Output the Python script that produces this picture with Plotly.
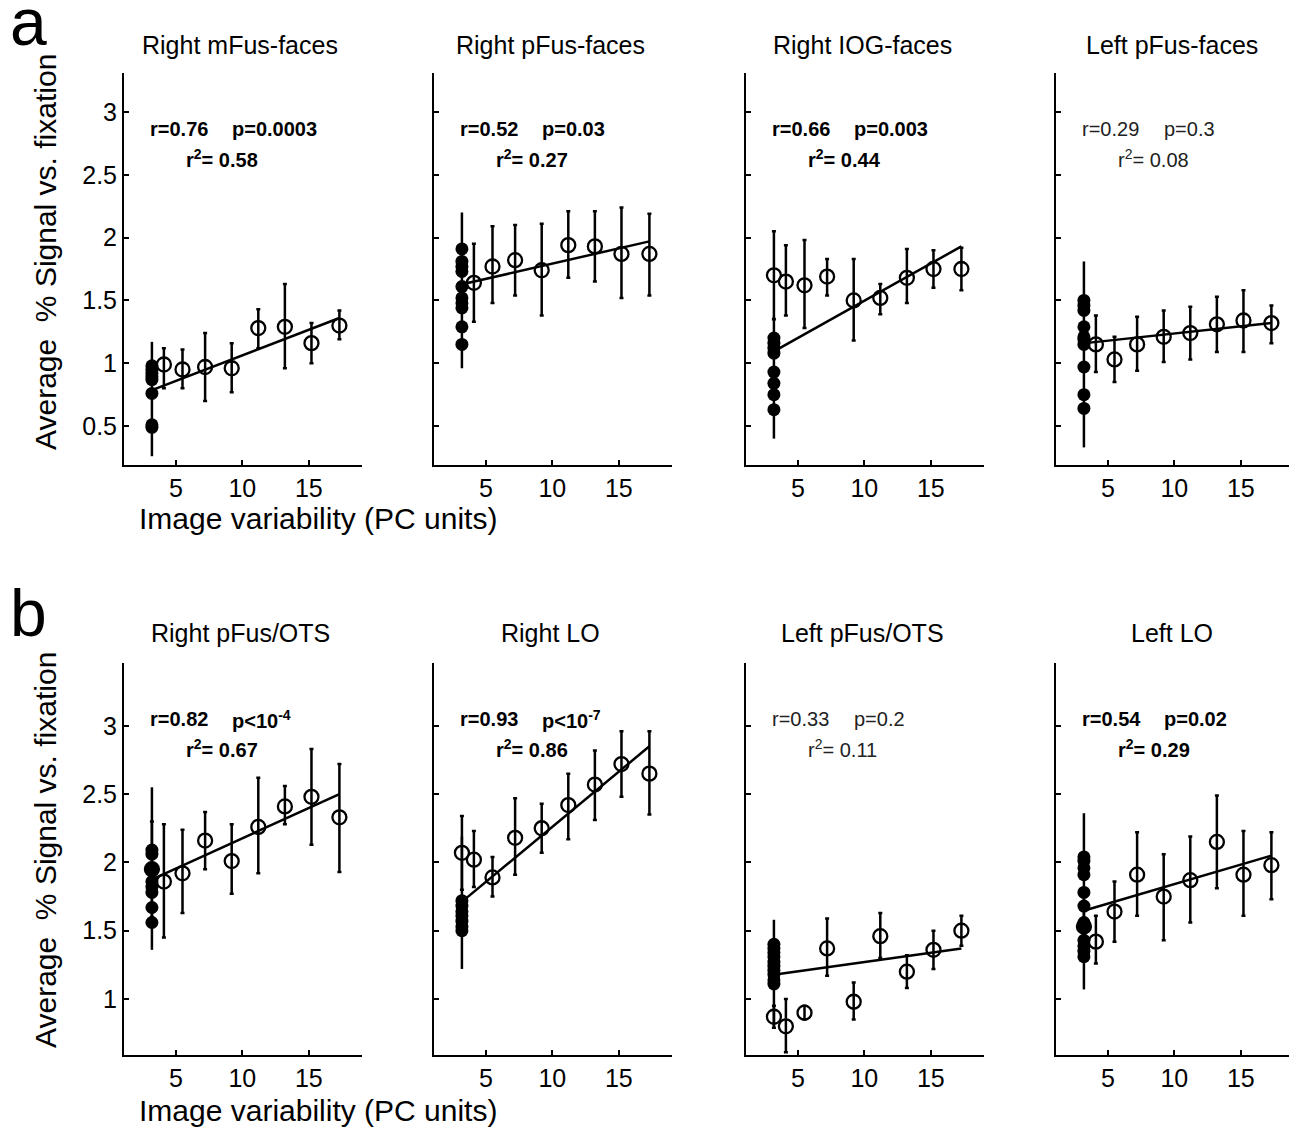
import plotly.graph_objects as go

# ---------------- data ----------------
titles = ["Right mFus-faces", "Right pFus-faces", "Right IOG-faces", "Left pFus-faces",
          "Right pFus/OTS", "Right LO", "Left pFus/OTS", "Left LO"]

x_open = [3.2, 4.1, 5.5, 7.2, 9.2, 11.2, 13.2, 15.2, 17.3]
x_single = 3.2
fit_x = [3.3, 17.3]
x_ticks = [5, 10, 15]
y_ticks_a = [0.5, 1, 1.5, 2, 2.5, 3]
y_ticks_b = [1, 1.5, 2, 2.5, 3]
y_ticktext_a = ["0.5", "1", "1.5", "2", "2.5", "3"]
y_ticktext_b = ["1", "1.5", "2", "2.5", "3"]

# Right mFus-faces
a1_open_y = [None, 0.99, 0.95, 0.97, 0.96, 1.28, 1.29, 1.16, 1.30]
a1_open_hi = [None, 1.12, 1.11, 1.24, 1.16, 1.43, 1.63, 1.32, 1.42]
a1_open_lo = [None, 0.80, 0.80, 0.70, 0.77, 1.12, 0.96, 1.00, 1.19]
a1_filled = [0.98, 0.95, 0.92, 0.89, 0.87, 0.76, 0.51, 0.49]
a1_bar = [0.26, 1.17]
a1_fit = [0.79, 1.36]

# Right pFus-faces
a2_open_y = [None, 1.64, 1.77, 1.82, 1.74, 1.94, 1.93, 1.87, 1.87]
a2_open_hi = [None, 1.95, 2.09, 2.10, 2.11, 2.21, 2.21, 2.24, 2.19]
a2_open_lo = [None, 1.33, 1.48, 1.54, 1.38, 1.68, 1.65, 1.52, 1.54]
a2_filled = [1.91, 1.81, 1.77, 1.73, 1.61, 1.52, 1.48, 1.44, 1.29, 1.15]
a2_bar = [0.96, 2.20]
a2_fit = [1.63, 1.97]

# Right IOG-faces
a3_open_y = [1.70, 1.65, 1.62, 1.69, 1.50, 1.52, 1.68, 1.75, 1.75]
a3_open_hi = [2.05, 1.94, 1.98, 1.83, 1.83, 1.63, 1.91, 1.90, 1.92]
a3_open_lo = [1.35, 1.38, 1.28, 1.54, 1.18, 1.39, 1.48, 1.60, 1.58]
a3_filled = [1.20, 1.16, 1.12, 1.08, 0.93, 0.84, 0.75, 0.63]
a3_bar = [0.40, 1.37]
a3_fit = [1.10, 1.93]

# Left pFus-faces
a4_open_y = [None, 1.15, 1.03, 1.15, 1.21, 1.24, 1.31, 1.34, 1.32]
a4_open_hi = [None, 1.38, 1.21, 1.37, 1.42, 1.45, 1.53, 1.58, 1.46]
a4_open_lo = [None, 0.93, 0.85, 0.94, 1.01, 1.03, 1.09, 1.09, 1.16]
a4_filled = [1.50, 1.46, 1.42, 1.29, 1.21, 1.19, 1.15, 0.97, 0.75, 0.64]
a4_bar = [0.33, 1.81]
a4_fit = [1.16, 1.32]

# Right pFus/OTS
b1_open_y = [1.95, 1.86, 1.92, 2.16, 2.01, 2.26, 2.41, 2.48, 2.33]
b1_open_hi = [2.30, 2.28, 2.24, 2.37, 2.28, 2.62, 2.56, 2.83, 2.72]
b1_open_lo = [1.60, 1.45, 1.63, 1.95, 1.77, 1.92, 2.28, 2.13, 1.93]
b1_filled = [2.09, 2.06, 1.95, 1.86, 1.82, 1.78, 1.67, 1.56]
b1_bar = [1.36, 2.55]
b1_fit = [1.88, 2.50]

# Right LO
b2_open_y = [2.07, 2.02, 1.89, 2.18, 2.25, 2.42, 2.57, 2.72, 2.65]
b2_open_hi = [2.34, 2.23, 2.04, 2.47, 2.43, 2.65, 2.82, 2.96, 2.96]
b2_open_lo = [1.80, 1.82, 1.75, 1.91, 2.07, 2.17, 2.31, 2.48, 2.35]
b2_filled = [1.72, 1.68, 1.64, 1.61, 1.57, 1.53, 1.50]
b2_bar = [1.22, 2.19]
b2_fit = [1.72, 2.85]

# Left pFus/OTS
b3_open_y = [0.87, 0.80, 0.90, 1.37, 0.98, 1.46, 1.20, 1.36, 1.50]
b3_open_hi = [0.95, 1.00, 0.95, 1.59, 1.12, 1.63, 1.32, 1.50, 1.61]
b3_open_lo = [0.79, 0.61, 0.85, 1.17, 0.85, 1.30, 1.08, 1.22, 1.39]
b3_filled = [1.40, 1.37, 1.34, 1.31, 1.27, 1.24, 1.21, 1.18, 1.14, 1.11]
b3_bar = [0.80, 1.58]
b3_fit = [1.18, 1.37]

# Left LO
b4_open_y = [1.53, 1.42, 1.64, 1.91, 1.75, 1.87, 2.15, 1.91, 1.98]
b4_open_hi = [1.75, 1.61, 1.86, 2.22, 2.06, 2.19, 2.49, 2.23, 2.22]
b4_open_lo = [1.31, 1.26, 1.42, 1.61, 1.43, 1.56, 1.81, 1.61, 1.73]
b4_filled = [2.04, 2.01, 1.96, 1.91, 1.78, 1.68, 1.56, 1.53, 1.43, 1.39, 1.35, 1.31]
b4_bar = [1.07, 2.36]
b4_fit = [1.65, 2.05]

stat_r = ["0.76", "0.52", "0.66", "0.29", "0.82", "0.93", "0.33", "0.54"]
stat_p = ["p=0.0003", "p=0.03", "p=0.003", "p=0.3",
          "p&lt;10<sup>-4</sup>", "p&lt;10<sup>-7</sup>", "p=0.2", "p=0.02"]
stat_r2 = ["0.58", "0.27", "0.44", "0.08", "0.67", "0.86", "0.11", "0.29"]
stat_sig = [True, True, True, False, True, True, False, True]

panels = [
    (a1_open_y, a1_open_hi, a1_open_lo, a1_filled, a1_bar, a1_fit),
    (a2_open_y, a2_open_hi, a2_open_lo, a2_filled, a2_bar, a2_fit),
    (a3_open_y, a3_open_hi, a3_open_lo, a3_filled, a3_bar, a3_fit),
    (a4_open_y, a4_open_hi, a4_open_lo, a4_filled, a4_bar, a4_fit),
    (b1_open_y, b1_open_hi, b1_open_lo, b1_filled, b1_bar, b1_fit),
    (b2_open_y, b2_open_hi, b2_open_lo, b2_filled, b2_bar, b2_fit),
    (b3_open_y, b3_open_hi, b3_open_lo, b3_filled, b3_bar, b3_fit),
    (b4_open_y, b4_open_hi, b4_open_lo, b4_filled, b4_bar, b4_fit),
]

# ---------------- layout geometry (page pixels) ----------------
OFF = 8                     # default body margin of the html page
FW, FH = 1297 - OFF, 1135 - OFF
FONT = "Liberation Sans, Arial, Helvetica, sans-serif"
col_left = [124, 434, 746, 1056]
panel_w = 238
row_top = [73, 663]
panel_h = 392
y_ranges = [[0.19, 3.31], [0.59, 3.46]]
x_range = [1.1, 19.0]


def px(x):
    return (x - OFF) / FW


def py(y):
    return 1 - (y - OFF) / FH


fig = go.Figure()
annotations = []
layout_axes = {}

for i, (oy, ohi, olo, filled, bar, fit) in enumerate(panels):
    row, col = divmod(i, 4)
    k = i + 1
    xref = "x" if k == 1 else f"x{k}"
    yref = "y" if k == 1 else f"y{k}"

    # long vertical bar through the single-image points
    fig.add_trace(go.Scatter(x=[x_single, x_single], y=bar, mode="lines",
                             line=dict(color="black", width=2.5),
                             xaxis=xref, yaxis=yref, hoverinfo="skip"))
    # regression line
    fig.add_trace(go.Scatter(x=fit_x, y=fit, mode="lines",
                             line=dict(color="black", width=2.5),
                             xaxis=xref, yaxis=yref))
    # filled points (single image)
    fig.add_trace(go.Scatter(x=[x_single] * len(filled), y=filled, mode="markers",
                             marker=dict(symbol="circle", size=13, color="black"),
                             xaxis=xref, yaxis=yref))
    # open circles with error bars
    xs, ys, up, dn = [], [], [], []
    for xv, yv, hv, lv in zip(x_open, oy, ohi, olo):
        if yv is None:
            continue
        xs.append(xv)
        ys.append(yv)
        up.append(hv - yv)
        dn.append(yv - lv)
    fig.add_trace(go.Scatter(x=xs, y=ys, mode="markers",
                             marker=dict(symbol="circle-open", size=14, color="black",
                                         line=dict(width=2.3, color="black")),
                             error_y=dict(type="data", symmetric=False, array=up,
                                          arrayminus=dn, thickness=2.5, width=2,
                                          color="black"),
                             xaxis=xref, yaxis=yref))

    left = col_left[col]
    top = row_top[row]
    xa_name = "xaxis" if k == 1 else f"xaxis{k}"
    ya_name = "yaxis" if k == 1 else f"yaxis{k}"
    layout_axes[xa_name] = dict(
        domain=[px(left), min(1.0, px(left + panel_w))], range=x_range, anchor=yref,
        tickmode="array", tickvals=x_ticks, ticktext=[str(t) for t in x_ticks],
        ticks="inside", ticklen=5, tickwidth=1.5, tickcolor="black",
        showline=True, linecolor="black", linewidth=2, mirror=False,
        showgrid=False, zeroline=False, ticklabelstandoff=0,
        tickfont=dict(family=FONT, size=25, color="black"))
    layout_axes[ya_name] = dict(
        domain=[py(top + panel_h), py(top)], range=y_ranges[row], anchor=xref,
        tickmode="array",
        tickvals=y_ticks_a if row == 0 else y_ticks_b,
        ticktext=y_ticktext_a if row == 0 else y_ticktext_b,
        showticklabels=(col == 0),
        ticks="inside", ticklen=5, tickwidth=1.5, tickcolor="black",
        showline=True, linecolor="black", linewidth=2, mirror=False,
        showgrid=False, zeroline=False, ticklabelstandoff=0,
        tickfont=dict(family=FONT, size=25, color="black"))

    # panel title
    title_y = 45 if row == 0 else 633
    annotations.append(dict(text=titles[i], x=px(left + panel_w / 2 - 3), y=py(title_y),
                            xref="paper", yref="paper", xanchor="center", yanchor="middle",
                            showarrow=False, font=dict(family=FONT, size=25, color="black")))

    # statistics text
    sig = stat_sig[i]
    color = "black" if sig else "#222222"

    def fmt(t):
        return f"<b>{t}</b>" if sig else t

    l1 = top + 56
    l2 = top + 85
    annotations.append(dict(text=fmt("r=" + stat_r[i]), x=px(left + 24), y=py(l1),
                            xref="paper", yref="paper", xanchor="left", yanchor="middle",
                            showarrow=False, font=dict(family=FONT, size=20, color=color)))
    annotations.append(dict(text=fmt(stat_p[i]), x=px(left + 106), y=py(l1),
                            xref="paper", yref="paper", xanchor="left", yanchor="middle",
                            showarrow=False, font=dict(family=FONT, size=20, color=color)))
    annotations.append(dict(text=fmt("r<sup>2</sup>= " + stat_r2[i]), x=px(left + 60), y=py(l2),
                            xref="paper", yref="paper", xanchor="left", yanchor="middle",
                            showarrow=False, font=dict(family=FONT, size=20, color=color)))

# axis titles and panel letters
for row in range(2):
    annotations.append(dict(text="Average  % Signal vs. fixation", textangle=-90,
                            x=px(45), y=py(252 if row == 0 else 850),
                            xref="paper", yref="paper", xanchor="center", yanchor="middle",
                            showarrow=False, font=dict(family=FONT, size=30, color="black")))
    annotations.append(dict(text="Image variability (PC units)",
                            x=px(318), y=py(518 if row == 0 else 1110),
                            xref="paper", yref="paper", xanchor="center", yanchor="middle",
                            showarrow=False, font=dict(family=FONT, size=30, color="black")))

annotations.append(dict(text="a", x=px(8), y=py(22), xref="paper", yref="paper",
                        xanchor="left", yanchor="middle", showarrow=False,
                        font=dict(family=FONT, size=66, color="black")))
annotations.append(dict(text="b", x=px(8), y=py(613), xref="paper", yref="paper",
                        xanchor="left", yanchor="middle", showarrow=False,
                        font=dict(family=FONT, size=66, color="black")))

fig.update_layout(width=FW, height=FH, margin=dict(l=0, r=0, t=0, b=0),
                  paper_bgcolor="white", plot_bgcolor="white", showlegend=False,
                  annotations=annotations, **layout_axes)

fig.write_html("out.html")
